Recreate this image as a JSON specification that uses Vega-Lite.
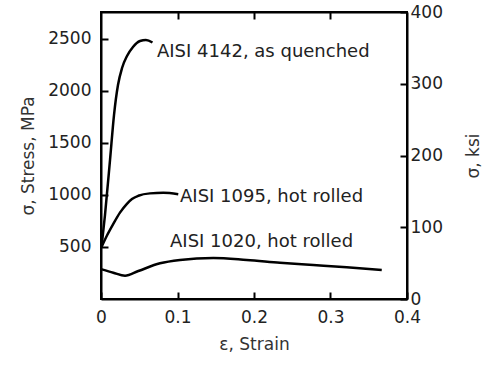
{
  "$schema": "https://vega.github.io/schema/vega-lite/v6.json",
  "width": 306,
  "height": 287,
  "autosize": {"type": "none"},
  "padding": {"left": 101, "top": 12, "right": 92, "bottom": 72},
  "background": "white",
  "config": {
    "view": {"stroke": "black", "strokeWidth": 2},
    "font": "DejaVu Sans",
    "axis": {"grid": false, "domainColor": "black", "domainWidth": 2, "tickColor": "black", "tickWidth": 2, "labelFont": "DejaVu Sans", "labelFontSize": 17, "labelColor": "#222", "titleFont": "DejaVu Sans", "titleFontSize": 17, "titleFontWeight": "normal", "titleColor": "#333"}
  },
  "datasets": {
    "curves": [
      {"steel": "4142", "strain": 0.0007, "stress": 500},
      {"steel": "4142", "strain": 0.0052, "stress": 807},
      {"steel": "4142", "strain": 0.0118, "stress": 1336},
      {"steel": "4142", "strain": 0.017, "stress": 1768},
      {"steel": "4142", "strain": 0.0222, "stress": 2056},
      {"steel": "4142", "strain": 0.0275, "stress": 2220},
      {"steel": "4142", "strain": 0.034, "stress": 2335},
      {"steel": "4142", "strain": 0.0418, "stress": 2422},
      {"steel": "4142", "strain": 0.051, "stress": 2479},
      {"steel": "4142", "strain": 0.0588, "stress": 2489},
      {"steel": "4142", "strain": 0.0673, "stress": 2465},
      {"steel": "1095", "strain": 0.0009, "stress": 502},
      {"steel": "1095", "strain": 0.0078, "stress": 610},
      {"steel": "1095", "strain": 0.0161, "stress": 722},
      {"steel": "1095", "strain": 0.0248, "stress": 830},
      {"steel": "1095", "strain": 0.0336, "stress": 912},
      {"steel": "1095", "strain": 0.0405, "stress": 960},
      {"steel": "1095", "strain": 0.0488, "stress": 992},
      {"steel": "1095", "strain": 0.064, "stress": 1015},
      {"steel": "1095", "strain": 0.0814, "stress": 1020},
      {"steel": "1095", "strain": 0.101, "stress": 1006},
      {"steel": "1020", "strain": 0.0009, "stress": 285},
      {"steel": "1020", "strain": 0.0161, "stress": 253},
      {"steel": "1020", "strain": 0.0314, "stress": 224},
      {"steel": "1020", "strain": 0.0488, "stress": 269},
      {"steel": "1020", "strain": 0.0771, "stress": 343},
      {"steel": "1020", "strain": 0.1033, "stress": 375},
      {"steel": "1020", "strain": 0.1468, "stress": 394},
      {"steel": "1020", "strain": 0.1905, "stress": 375},
      {"steel": "1020", "strain": 0.234, "stress": 349},
      {"steel": "1020", "strain": 0.2775, "stress": 327},
      {"steel": "1020", "strain": 0.3212, "stress": 305},
      {"steel": "1020", "strain": 0.367, "stress": 279}
    ],
    "labels": [
      {"label": "AISI 4142, as quenched", "strain": 0.0732, "stress": 2374},
      {"label": "AISI 1095, hot rolled", "strain": 0.1033, "stress": 983},
      {"label": "AISI 1020, hot rolled", "strain": 0.0902, "stress": 551}
    ]
  },
  "layer": [
    {
      "data": {"name": "curves"},
      "mark": {"type": "line", "color": "black", "strokeWidth": 2.5, "interpolate": "monotone"},
      "encoding": {
        "x": {"field": "strain", "type": "quantitative", "scale": {"domain": [0, 0.4], "nice": false},
          "axis": {"orient": "bottom", "title": "ε, Strain", "values": [0, 0.1, 0.2, 0.3, 0.4], "format": "~g", "labelFlush": false, "tickSize": -7, "labelPadding": 17, "titlePadding": 11}},
        "y": {"field": "stress", "type": "quantitative", "scale": {"domain": [0, 2758], "nice": false, "zero": true},
          "axis": {"orient": "left", "title": "σ, Stress, MPa", "values": [500, 1000, 1500, 2000, 2500], "format": "d", "tickSize": -7, "labelPadding": 17, "titlePadding": 10}},
        "detail": {"field": "steel"}
      }
    },
    {
      "data": {"name": "labels"},
      "mark": {"type": "text", "align": "left", "baseline": "middle", "fontSize": 18, "font": "DejaVu Sans", "color": "#222"},
      "encoding": {
        "x": {"field": "strain", "type": "quantitative",
          "axis": {"orient": "top", "title": null, "labels": false, "values": [0.1, 0.2, 0.3], "tickSize": -7}},
        "y": {"field": "stress", "type": "quantitative",
          "axis": {"orient": "right", "title": "σ, ksi", "values": [0, 689.48, 1378.96, 2068.44, 2757.92], "labelExpr": "format(datum.value / 6.8948, '.0f')", "tickSize": -7, "labelPadding": 10, "titlePadding": 40, "titleAngle": -90}},
        "text": {"field": "label"}
      }
    }
  ],
  "resolve": {"axis": {"x": "independent", "y": "independent"}}
}
